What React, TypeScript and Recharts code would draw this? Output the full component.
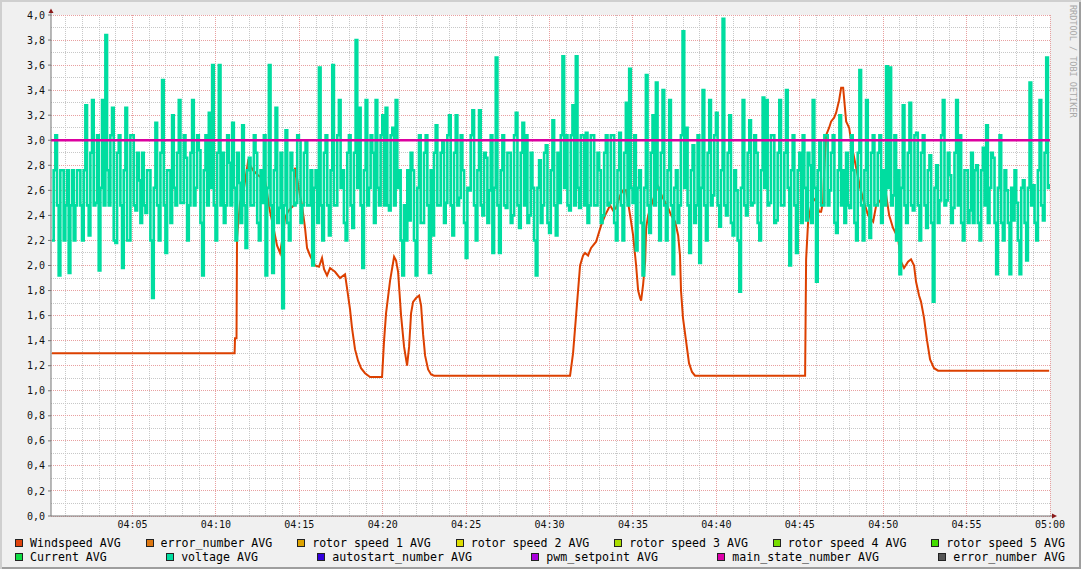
import React from 'react';
import {
  ComposedChart,
  Line,
  XAxis,
  YAxis,
  CartesianGrid,
  ReferenceDot,
} from 'recharts';

// time axis is in minutes after 04:00
const xMin = 0.114;
const xMax = 60;
const xMajorTicks = [5, 10, 15, 20, 25, 30, 35, 40, 45, 50, 55, 60];
const xMinorTicks = Array.from({ length: 60 }, (_, i) => i + 1).filter((m) => m % 5 !== 0);
const yMajorTicks = [0, 0.2, 0.4, 0.6, 0.8, 1.0, 1.2, 1.4, 1.6, 1.8, 2.0, 2.2, 2.4, 2.6, 2.8, 3.0, 3.2, 3.4, 3.6, 3.8, 4.0];
const yMinorTicks = [0.1, 0.3, 0.5, 0.7, 0.9, 1.1, 1.3, 1.5, 1.7, 1.9, 2.1, 2.3, 2.5, 2.7, 2.9, 3.1, 3.3, 3.5, 3.7, 3.9];

// Windspeed AVG: minute, value
const windTimes = [
  0.17, 11.12, 11.145, 11.235, 11.265, 11.445, 11.685, 11.925, 12.045, 12.225, 12.525, 12.764, 12.944,
  13.244, 13.424, 13.663, 13.843, 14.023, 14.143, 14.323, 14.502, 14.682, 14.742, 14.862, 15.042, 15.162,
  15.342, 15.462, 15.642, 15.941, 16.181, 16.361, 16.481, 16.661, 16.841, 17.14, 17.44, 17.74, 17.86,
  18.04, 18.16, 18.34, 18.52, 18.7, 18.94, 19.24, 19.96, 20.08, 20.2, 20.44, 20.68, 20.8, 20.92, 21.1,
  21.28, 21.46, 21.58, 21.7, 21.82, 22.0, 22.18, 22.3, 22.42, 22.54, 22.72, 22.9, 23.08, 31.23, 31.41,
  31.59, 31.83, 32.01, 32.13, 32.31, 32.49, 32.79, 33.09, 33.33, 33.63, 33.81, 33.99, 34.23, 34.41, 34.59,
  34.83, 35.01, 35.19, 35.31, 35.43, 35.49, 35.61, 35.73, 35.79, 35.91, 36.15, 36.39, 36.51, 36.75, 37.11,
  37.29, 37.53, 37.71, 37.82, 37.88, 38.0, 38.18, 38.36, 38.54, 38.72, 45.32, 45.35, 45.38, 45.5, 45.68,
  45.8, 45.98, 46.16, 46.28, 46.4, 46.46, 46.58, 46.76, 46.88, 47.06, 47.18, 47.36, 47.48, 47.6, 47.78,
  47.96, 48.08, 48.2, 48.38, 48.62, 48.86, 49.1, 49.4, 49.58, 49.82, 50.18, 50.36, 50.59, 50.89, 51.07,
  51.25, 51.49, 51.67, 51.85, 51.97, 52.15, 52.27, 52.45, 52.63, 52.81, 53.05, 53.29, 59.95,
];
const windValues = [
  1.3, 1.3, 1.42, 1.42, 2.22, 2.5, 2.62, 2.83, 2.8, 2.76, 2.72, 2.7, 2.68,
  2.43, 2.32, 2.16, 2.1, 2.24, 2.38, 2.43, 2.46, 2.48, 2.78, 2.7, 2.56, 2.48,
  2.3, 2.14, 2.08, 2.0, 1.99, 2.06, 1.97, 1.92, 1.98, 1.95, 1.9, 1.93, 1.82,
  1.65, 1.5, 1.33, 1.24, 1.18, 1.14, 1.11, 1.11, 1.4, 1.62, 1.88, 2.07, 2.04, 1.95, 1.6,
  1.35, 1.2, 1.35, 1.62, 1.71, 1.74, 1.76, 1.68, 1.45, 1.28, 1.17, 1.13, 1.12, 1.12, 1.3,
  1.6, 2.0, 2.08, 2.1, 2.08, 2.14, 2.19, 2.32, 2.4, 2.48, 2.44, 2.46, 2.56, 2.6, 2.6,
  2.4, 2.24, 2.0, 1.8, 1.74, 1.72, 1.85, 2.03, 2.3, 2.4, 2.5, 2.6, 2.63, 2.55, 2.46,
  2.4, 2.35, 2.24, 2.08, 1.8, 1.58, 1.4, 1.22, 1.15, 1.12, 1.12, 1.58, 2.05, 2.35, 2.48,
  2.54, 2.51, 2.43, 2.43, 2.51, 2.75, 3.04, 3.1, 3.15, 3.18, 3.22, 3.32, 3.42, 3.42, 3.15,
  3.1, 2.99, 2.9, 2.78, 2.62, 2.5, 2.4, 2.35, 2.48, 2.52, 2.56, 2.4, 2.3, 2.22, 2.03,
  1.98, 2.03, 2.05, 2.0, 1.87, 1.76, 1.71, 1.58, 1.4, 1.25, 1.18, 1.16, 1.16,
];

// voltage AVG: one sample every 6 s starting 04:00:10
const voltageStart = 0.174;
const voltageStep = 0.1;
const voltageA = [
  2.2, 2.76, 3.04, 2.48, 1.92, 2.76, 2.76, 2.2, 2.48, 2.76, 1.94, 2.48, 2.76, 2.2, 2.48, 2.76, 2.76, 2.48, 2.2, 2.76,
  3.28, 2.48, 2.24, 2.9, 3.32, 2.48, 2.5, 3.04, 1.96, 2.62, 3.32, 2.48, 3.84, 2.76, 2.48, 3.04, 3.26, 2.2, 2.18, 2.9,
  3.04, 2.48, 1.98, 2.76, 3.26, 2.2, 2.2, 3.04, 3.04, 2.48, 2.44, 2.9, 2.68, 2.34, 2.9, 2.48, 2.42, 2.76, 2.76, 2.2,
  1.74, 2.62, 3.14, 2.48, 2.2, 2.9, 3.48, 2.48, 2.1, 2.76, 2.76, 2.34, 3.2, 2.62, 2.48, 2.9, 3.32, 2.5, 2.5, 3.04,
  2.86, 2.2, 2.48, 2.9, 3.32, 2.48, 2.62, 3.04, 2.92, 2.34, 1.92, 2.76, 3.04, 2.48, 3.22, 2.62, 3.6, 2.48, 2.2, 2.9,
  3.6, 2.48, 2.9, 2.34, 2.48, 3.04, 2.82, 2.48, 3.14, 2.62, 2.2, 2.9, 2.66, 2.34, 3.12, 2.48, 2.14, 2.76, 2.86, 2.48,
  2.48, 3.04, 2.9, 2.34, 2.2, 2.76, 2.5, 3.04, 1.92, 2.62, 3.6, 2.48, 1.94, 2.76, 3.26, 2.34, 2.46, 2.9, 1.66, 2.48,
  3.08, 2.34, 2.2, 2.9, 2.76, 2.48, 2.5, 3.04, 3.0, 2.34, 2.48, 2.9, 3.0, 2.48, 2.48, 2.76, 2.0, 2.62, 2.76, 2.34,
  3.58, 2.48, 2.2, 2.9, 3.04, 2.48, 2.24, 2.76, 3.6, 2.48, 2.48, 3.04, 3.32, 2.62, 2.76, 2.34, 2.2, 2.9, 3.04, 2.48,
  2.3, 2.9, 3.8, 2.62, 3.26, 2.48, 1.98, 2.76, 3.32, 2.48, 2.62, 3.04, 2.9, 2.34, 3.32, 2.62, 2.48, 3.04, 3.2, 2.48,
];
const voltageB = [
  3.26, 2.48, 2.44, 3.04, 3.1, 2.48, 3.32, 2.62, 2.76, 2.2, 1.92, 2.48, 2.2, 2.76, 2.36, 2.9, 2.76, 2.2, 1.92, 2.62,
  3.04, 2.34, 2.34, 2.9, 3.04, 2.48, 1.94, 2.76, 2.24, 2.9, 3.12, 2.48, 2.48, 2.9, 3.0, 2.34, 2.5, 3.04, 3.2, 2.48,
  2.24, 2.9, 3.2, 2.48, 2.54, 3.04, 2.76, 2.34, 2.06, 2.62, 2.6, 3.04, 3.24, 2.48, 2.2, 2.76, 3.24, 2.48, 2.4, 2.9,
  2.86, 2.34, 2.6, 3.04, 2.1, 2.62, 3.66, 2.48, 2.1, 2.76, 3.04, 2.48, 2.46, 2.9, 2.9, 2.34, 2.4, 3.04, 3.22, 2.48,
  2.3, 2.9, 3.14, 2.48, 3.04, 2.34, 2.4, 2.9, 2.62, 2.2, 1.92, 2.62, 2.84, 2.34, 2.48, 2.9, 2.96, 2.34, 2.26, 2.76,
  3.16, 2.48, 2.24, 2.9, 2.5, 3.04, 3.67, 2.62, 3.04, 2.48, 2.44, 3.04, 3.28, 2.48, 3.67, 2.62, 2.46, 3.04, 3.04, 2.48,
  3.06, 2.34, 2.48, 3.04, 3.04, 2.48, 2.48, 2.9, 2.76, 2.34, 2.4, 2.9, 3.04, 2.48, 2.5, 3.04, 3.04, 2.34, 2.2, 2.76,
  3.06, 2.48, 2.2, 2.9, 3.3, 2.48, 3.57, 2.62, 2.5, 3.04, 2.12, 2.62, 2.76, 2.34, 1.92, 2.62, 3.52, 2.48, 2.26, 2.9,
  3.2, 2.48, 3.46, 2.62, 2.2, 2.9, 3.4, 2.48, 2.2, 2.76, 3.32, 2.48, 1.93, 2.62, 2.76, 2.34, 2.48, 3.04, 3.87, 2.62,
  3.1, 2.48, 2.1, 2.76, 2.96, 2.34, 2.48, 3.04, 2.02, 2.62, 3.4, 2.48, 2.2, 2.9, 3.32, 2.48, 2.56, 3.04, 3.22, 2.48,
];
const voltageC = [
  2.31, 2.76, 3.97, 2.48, 2.4, 2.9, 3.2, 2.34, 2.24, 2.76, 2.6, 2.2, 1.79, 2.62, 3.32, 2.48, 2.4, 2.9, 3.16, 2.48,
  2.5, 3.04, 2.9, 2.34, 2.2, 2.76, 3.34, 2.62, 3.32, 2.48, 2.5, 3.04, 3.04, 2.34, 2.36, 2.9, 3.32, 2.48, 2.48, 2.9,
  3.4, 2.62, 2.0, 2.76, 3.04, 2.48, 2.1, 2.76, 2.9, 2.34, 3.04, 2.62, 2.36, 2.9, 2.8, 2.34, 3.32, 2.62, 1.87, 2.76,
  3.0, 2.48, 2.48, 3.04, 3.04, 2.48, 2.6, 2.9, 3.04, 2.34, 2.26, 2.76, 3.2, 2.48, 2.76, 2.34, 2.9, 2.48, 2.46, 3.04,
  2.76, 2.34, 2.2, 2.9, 3.56, 2.48, 2.2, 2.76, 3.32, 2.48, 2.22, 2.9, 3.04, 2.48, 2.48, 2.9, 3.04, 2.34, 2.76, 2.48,
  3.59, 2.62, 3.58, 2.48, 2.56, 3.04, 2.2, 2.76, 1.93, 2.62, 3.28, 2.48, 2.34, 2.9, 3.3, 2.48, 2.44, 3.04, 3.06, 2.48,
  2.2, 2.9, 3.04, 2.48, 2.3, 2.76, 2.88, 2.34, 1.71, 2.62, 2.8, 2.34, 2.52, 3.04, 3.32, 2.48, 2.52, 2.9, 2.72, 2.34,
  2.46, 2.9, 3.32, 2.48, 3.04, 2.34, 2.2, 2.76, 2.76, 2.34, 2.44, 2.9, 2.34, 2.76, 2.8, 2.34, 2.2, 2.76, 2.94, 2.48,
  3.12, 2.34, 2.62, 2.9, 2.86, 2.34, 1.93, 2.62, 3.04, 2.34, 2.2, 2.76, 2.6, 2.34, 1.93, 2.62, 2.36, 2.76, 2.5, 2.2,
  1.93, 2.62, 2.68, 2.34, 2.04, 2.62, 3.46, 2.48, 2.64, 2.34, 2.2, 2.76, 3.32, 2.48, 2.36, 2.9, 3.66, 2.62, 2.64, 2.4,
];

// main_state_number AVG
const stateTimes = [0.114, 60];
const stateValues = [3.0, 3.0];

const legendRow1 = [
  { name: 'Windspeed AVG', color: '#e0440e' },
  { name: 'error_number AVG', color: '#dd7711' },
  { name: 'rotor speed 1 AVG', color: '#dda300' },
  { name: 'rotor speed 2 AVG', color: '#dddd00' },
  { name: 'rotor speed 3 AVG', color: '#aadd00' },
  { name: 'rotor speed 4 AVG', color: '#77dd00' },
  { name: 'rotor speed 5 AVG', color: '#44dd00' },
];
const legendRow2 = [
  { name: 'Current AVG', color: '#11dd44' },
  { name: 'voltage AVG', color: '#00dda0' },
  { name: 'autostart_number AVG', color: '#3300dd' },
  { name: 'pwm_setpoint AVG', color: '#aa00dd' },
  { name: 'main_state_number AVG', color: '#dd00aa' },
  { name: 'error_number AVG', color: '#555555' },
];

const FONT = '"DejaVu Sans Mono", monospace';

const windData = windTimes.map((t, i) => ({ t, v: windValues[i] }));
const voltageData = [...voltageA, ...voltageB, ...voltageC].map((v, i) => ({
  t: voltageStart + i * voltageStep,
  v,
}));
const stateData = stateTimes.map((t, i) => ({ t, v: stateValues[i] }));

const formatTime = (m: number) =>
  m >= 60 ? '05:00' : `04:${String(m).padStart(2, '0')}`;

const UpArrow = (props: any) => {
  const { cx, cy } = props;
  return (
    <g>
      <line x1={cx} y1={cy} x2={cx} y2={cy - 5} stroke="#777" strokeWidth={1} />
      <path d={`M${cx - 2.5},${cy - 2} L${cx + 2.5},${cy - 2} L${cx},${cy - 6.5} Z`} fill="#8b1a1a" />
    </g>
  );
};

const RightArrow = (props: any) => {
  const { cx, cy } = props;
  return (
    <g>
      <line x1={cx} y1={cy} x2={cx + 4} y2={cy} stroke="#777" strokeWidth={1} />
      <path d={`M${cx + 2},${cy - 2.5} L${cx + 2},${cy + 2.5} L${cx + 7},${cy} Z`} fill="#8b1a1a" />
    </g>
  );
};

const LegendRow = ({ items }: { items: { name: string; color: string }[] }) => (
  <div style={{ display: 'flex', justifyContent: 'space-between', height: 14, lineHeight: '14px' }}>
    {items.map((item) => (
      <span key={item.name} style={{ whiteSpace: 'pre' }}>
        <span
          style={{
            display: 'inline-block',
            width: 6,
            height: 6,
            border: '1px solid #222',
            background: item.color,
            marginRight: 7,
            verticalAlign: 'baseline',
          }}
        />
        {item.name}
      </span>
    ))}
  </div>
);

export default function App() {
  return (
    <div
      style={{
        position: 'absolute',
        left: 0,
        top: 0,
        width: 1081,
        height: 569,
        background: '#f0f0f0',
        boxShadow: 'inset 2px 2px 0 #cfcfcf, inset -2px -2px 0 #9e9e9e',
        overflow: 'hidden',
      }}
    >
      <ComposedChart
        width={1081}
        height={569}
        margin={{ top: 15, right: 31, bottom: 0, left: 0 }}
      >
        <CartesianGrid
          fill="#ffffff"
          stroke="#c8c8c8"
          strokeDasharray="1 1"
          horizontalValues={yMinorTicks}
          verticalValues={xMinorTicks}
          shapeRendering="crispEdges"
        />
        <CartesianGrid
          stroke="#e8a0a0"
          strokeDasharray="1 1"
          horizontalValues={yMajorTicks}
          verticalValues={xMajorTicks}
          shapeRendering="crispEdges"
        />
        <XAxis
          type="number"
          dataKey="t"
          domain={[xMin, xMax]}
          allowDataOverflow
          ticks={xMajorTicks}
          interval={0}
          tickFormatter={formatTime}
          height={53}
          tickSize={3}
          tickMargin={2}
          tickLine={false}
          axisLine={{ stroke: '#777' }}
          tick={{ fontFamily: FONT, fontSize: 10, fill: '#111' }}
        />
        <YAxis
          type="number"
          domain={[0, 4]}
          allowDataOverflow
          ticks={yMajorTicks}
          interval={0}
          width={51}
          tickSize={3}
          tickMargin={3}
          tickFormatter={(v: number) => v.toFixed(1).replace('.', ',')}
          axisLine={{ stroke: '#777' }}
          tickLine={{ stroke: '#777' }}
          tick={{ fontFamily: FONT, fontSize: 10, fill: '#111' }}
        />
        <Line
          data={windData}
          dataKey="v"
          type="linear"
          stroke="#dc4000"
          strokeWidth={2}
          dot={false}
          isAnimationActive={false}
        />
        <Line
          data={voltageData}
          dataKey="v"
          type="stepAfter"
          stroke="#00dda0"
          strokeWidth={2.6}
          dot={false}
          isAnimationActive={false}
        />
        <Line
          data={stateData}
          dataKey="v"
          type="linear"
          stroke="#dd00a0"
          strokeWidth={2.4}
          dot={false}
          isAnimationActive={false}
        />
        <ReferenceDot x={xMin} y={4} r={0} ifOverflow="visible" shape={UpArrow} />
        <ReferenceDot x={xMax} y={0} r={0} ifOverflow="visible" shape={RightArrow} />
      </ComposedChart>
      <div
        style={{
          position: 'absolute',
          left: 15,
          top: 536,
          width: 1050,
          fontFamily: FONT,
          fontSize: 11.6,
          color: '#000',
        }}
      >
        <LegendRow items={legendRow1} />
        <LegendRow items={legendRow2} />
      </div>
      <div
        style={{
          position: 'absolute',
          left: 1068,
          top: 5,
          width: 9,
          writingMode: 'vertical-rl',
          fontFamily: FONT,
          fontSize: 8.5,
          lineHeight: '9px',
          color: '#a8a8a8',
          whiteSpace: 'pre',
        }}
      >
        RRDTOOL / TOBI OETIKER
      </div>
    </div>
  );
}
